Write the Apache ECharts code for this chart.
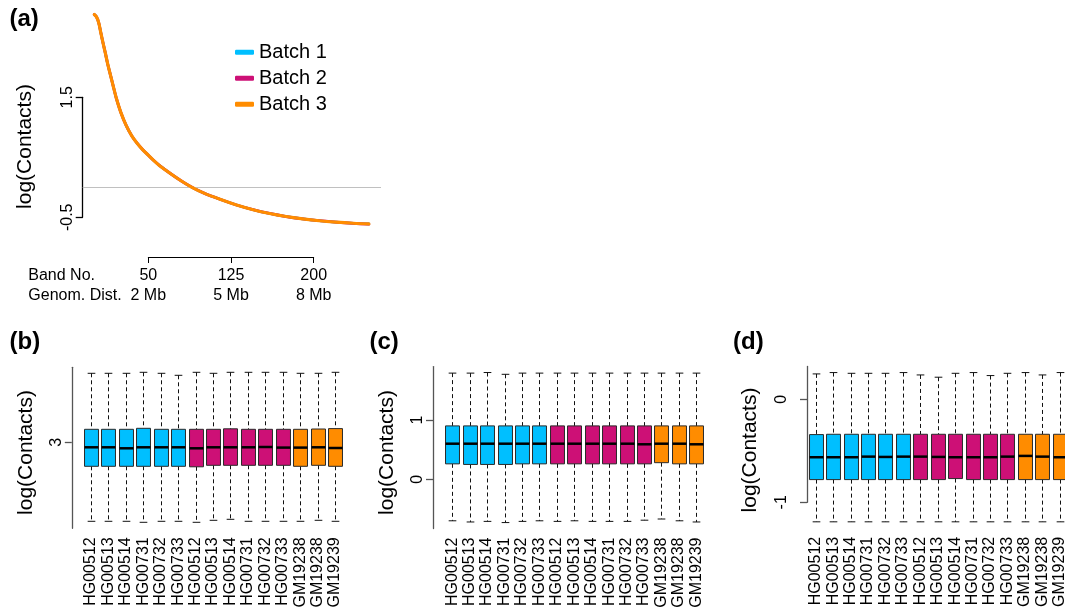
<!DOCTYPE html>
<html><head><meta charset="utf-8">
<script src="https://cdn.jsdelivr.net/npm/echarts@6/dist/echarts.min.js"></script>
<style>html,body{margin:0;padding:0;background:#fff}#c{width:1065px;height:613px}</style>
</head><body><div id="c"></div><script>
const FONT = "'Liberation Sans', Arial, Helvetica, sans-serif";

// ---------- data ----------
const batchNames = ['Batch 1', 'Batch 2', 'Batch 3'];
const samples = ['HG00512','HG00513','HG00514','HG00731','HG00732','HG00733',
                 'HG00512','HG00513','HG00514','HG00731','HG00732','HG00733',
                 'GM19238','GM19238','GM19239'];
const sampleBatch = [1,1,1,1,1,1,2,2,2,2,2,2,3,3,3];

// panel (a): decay curve, band number vs log(contacts)
const curveBands  = [1, 3, 5, 7, 9, 11, 13, 15, 18, 21, 25, 30, 35, 40, 45, 50, 55, 60, 70, 80, 90, 100, 115, 130, 145, 160, 175, 190, 205, 220, 236, 250];
const curveBatch1 = [2.88, 2.84, 2.745, 2.57, 2.40, 2.24, 2.068, 1.92, 1.70, 1.484, 1.252, 1.027, 0.857, 0.73, 0.625, 0.535, 0.445, 0.365, 0.23, 0.105, -0.005, -0.093, -0.20, -0.295, -0.373, -0.436, -0.487, -0.526, -0.557, -0.58, -0.599, -0.61];
const curveBatch2 = [2.88, 2.84, 2.745, 2.57, 2.40, 2.24, 2.068, 1.92, 1.70, 1.484, 1.252, 1.027, 0.857, 0.73, 0.625, 0.535, 0.445, 0.365, 0.23, 0.105, -0.005, -0.093, -0.20, -0.295, -0.373, -0.436, -0.487, -0.526, -0.557, -0.58, -0.601, -0.615];
const curveBatch3 = [2.88, 2.84, 2.745, 2.57, 2.40, 2.24, 2.068, 1.92, 1.70, 1.484, 1.252, 1.027, 0.857, 0.73, 0.625, 0.535, 0.445, 0.365, 0.23, 0.105, -0.005, -0.093, -0.20, -0.295, -0.373, -0.436, -0.487, -0.526, -0.557, -0.58, -0.599, -0.61];
const curveYTicks = [-0.5, 1.5];
const bandTicks   = [50, 125, 200];
const distLabels  = ['2 Mb', '5 Mb', '8 Mb'];

// boxplots: [lower whisker, Q1, median, Q3, upper whisker]
const boxB = [
  [2.21,2.76,2.95,3.13,3.69],[2.21,2.76,2.95,3.13,3.69],[2.21,2.76,2.94,3.13,3.69],
  [2.20,2.76,2.95,3.14,3.70],[2.21,2.76,2.95,3.13,3.69],[2.21,2.76,2.95,3.13,3.67],
  [2.20,2.755,2.94,3.13,3.70],[2.22,2.77,2.95,3.13,3.69],[2.23,2.77,2.95,3.135,3.70],
  [2.21,2.77,2.95,3.13,3.70],[2.21,2.77,2.953,3.13,3.70],[2.21,2.77,2.947,3.13,3.70],
  [2.21,2.76,2.947,3.13,3.69],[2.22,2.77,2.95,3.133,3.69],[2.21,2.76,2.943,3.137,3.70]];
const ticksB = [3];
const boxC = [
  [-0.70,0.26,0.60,0.90,1.79],[-0.72,0.25,0.60,0.90,1.79],[-0.71,0.25,0.60,0.90,1.80],
  [-0.73,0.25,0.60,0.90,1.77],[-0.71,0.26,0.60,0.90,1.79],[-0.70,0.26,0.60,0.90,1.79],
  [-0.71,0.26,0.60,0.90,1.79],[-0.70,0.26,0.60,0.90,1.79],[-0.71,0.26,0.60,0.90,1.79],
  [-0.71,0.26,0.60,0.90,1.79],[-0.71,0.26,0.60,0.90,1.79],[-0.69,0.26,0.59,0.90,1.79],
  [-0.67,0.28,0.60,0.90,1.79],[-0.70,0.26,0.60,0.90,1.79],[-0.72,0.26,0.59,0.90,1.79]];
const ticksC = [0, 1];
const boxD = [
  [-1.19,-0.78,-0.563,-0.343,0.246],[-1.19,-0.78,-0.563,-0.34,0.259],[-1.19,-0.78,-0.563,-0.34,0.252],
  [-1.19,-0.78,-0.557,-0.34,0.252],[-1.19,-0.78,-0.56,-0.34,0.252],[-1.19,-0.78,-0.557,-0.34,0.259],
  [-1.19,-0.78,-0.557,-0.34,0.236],[-1.19,-0.78,-0.56,-0.34,0.214],[-1.19,-0.77,-0.563,-0.34,0.252],
  [-1.19,-0.78,-0.563,-0.34,0.259],[-1.19,-0.78,-0.563,-0.34,0.23],[-1.19,-0.78,-0.557,-0.34,0.252],
  [-1.19,-0.78,-0.55,-0.34,0.259],[-1.19,-0.78,-0.557,-0.34,0.236],[-1.19,-0.78,-0.563,-0.34,0.259]];
const ticksD = [-1, 0];

// ---------- styles ----------
const batchColors = ['#00BFFF', '#CD1076', '#FF8C00'];
const curveWidths = [2.6, 2.8, 3.2];

function curvePairs(vals) { return curveBands.map((b, i) => [b, vals[i]]); }
function boxRows(box) { return box.map((r, i) => [i].concat(r, [sampleBatch[i]])); }

function renderBox(params, api) {
  const i = api.value(0);
  const lo = api.coord([i, api.value(1)]);
  const q1 = api.coord([i, api.value(2)]);
  const md = api.coord([i, api.value(3)]);
  const q3 = api.coord([i, api.value(4)]);
  const hi = api.coord([i, api.value(5)]);
  const bw = api.size([1, 0])[0];
  const half = bw * 0.4, st = bw * 0.22;
  const x = Math.round(lo[0]) + 0.5;
  const color = batchColors[api.value(6) - 1];
  const dash = { stroke: '#111', lineWidth: 1, lineDash: [4, 3] };
  const solid = { stroke: '#111', lineWidth: 1 };
  return { type: 'group', children: [
    { type: 'line', shape: { x1: x, y1: hi[1], x2: x, y2: q3[1] }, style: dash },
    { type: 'line', shape: { x1: x, y1: q1[1], x2: x, y2: lo[1] }, style: dash },
    { type: 'line', shape: { x1: x - st, y1: hi[1], x2: x + st, y2: hi[1] }, style: solid },
    { type: 'line', shape: { x1: x - st, y1: lo[1], x2: x + st, y2: lo[1] }, style: solid },
    { type: 'rect', shape: { x: x - half, y: q3[1], width: half * 2, height: q1[1] - q3[1] },
      style: { fill: color, stroke: '#2a2a2a', lineWidth: 1 } },
    { type: 'line', shape: { x1: x - half, y1: md[1], x2: x + half, y2: md[1] },
      style: { stroke: '#000', lineWidth: 2.5 } }
  ]};
}

const hidden = { show: false };
function hiddenAxis(grid, extra) {
  return Object.assign({ type: 'value', gridIndex: grid, show: false, splitLine: hidden }, extra || {});
}
function catAxis(grid) {
  return { type: 'category', gridIndex: grid, data: samples, boundaryGap: true,
    axisLine: hidden, axisTick: hidden, splitLine: hidden,
    axisLabel: { interval: 0, rotate: 90, margin: 9, fontSize: 16, color: '#000', fontFamily: FONT } };
}
function leftAxis(grid, min, max, ticks, offset, lineColor) {
  return { type: 'value', gridIndex: grid, min: min, max: max, offset: offset,
    splitLine: hidden,
    axisLine: { show: true, lineStyle: { color: lineColor, width: 1.3 } },
    axisTick: { show: true, length: 7, customValues: ticks, lineStyle: { color: lineColor, width: 1.3 } },
    axisLabel: { customValues: ticks, rotate: 90, margin: 7, fontSize: 16, color: '#000', fontFamily: FONT } };
}

const grids = [
  { left: 82.7, top: 5.6, width: 298.3, height: 226.4 },   // 0 (a) curve
  { left: 82.7, top: 97.3, width: 298.3, height: 120 },    // 1 (a) y axis
  { left: 148.3, top: 240, width: 165.4, height: 17 },     // 2 (a) x axis
  { left: 82.3, top: 367.3, width: 261.5, height: 161 },   // 3 (b)
  { left: 443.5, top: 366.6, width: 261.5, height: 161.9 },// 4 (c)
  { left: 807, top: 366.5, width: 261.5, height: 161.3 },  // 5 (d)
  { left: 807, top: 366.5, width: 261.5, height: 135.8 }   // 6 (d) y axis
].map(g => Object.assign({ containLabel: false, outerBoundsMode: 'none' }, g));

const xAxes = [
  hiddenAxis(0, { min: -9.5, max: 261 }),
  hiddenAxis(1, { min: 0, max: 1 }),
  { type: 'value', gridIndex: 2, min: 50, max: 200, splitLine: hidden,
    axisLine: { show: true, lineStyle: { color: '#000', width: 1 } },
    axisTick: { show: true, length: 6, customValues: bandTicks, lineStyle: { color: '#000' } },
    axisLabel: { customValues: bandTicks, margin: 8.5, fontSize: 16, lineHeight: 20, color: '#000', fontFamily: FONT,
      formatter: v => v + '\n' + distLabels[bandTicks.indexOf(v)] } },
  catAxis(3), catAxis(4), catAxis(5),
  hiddenAxis(6, { min: 0, max: 1 })
];
const yAxes = [
  hiddenAxis(0, { min: -0.745, max: 3.028 }),
  leftAxis(1, -0.5, 1.5, curveYTicks, 0, '#000'),
  hiddenAxis(2, { min: 0, max: 1 }),
  leftAxis(3, 2.14, 3.75, ticksB, 10.5, '#555'),
  leftAxis(4, -0.83, 1.90, ticksC, 10.5, '#555'),
  hiddenAxis(5, { min: -1.248, max: 0.318 }),
  leftAxis(6, -1, 0.318, ticksD, 10.5, '#555')
];

const curveSeries = [curveBatch1, curveBatch2, curveBatch3].map((vals, k) => ({
  type: 'line', name: batchNames[k], xAxisIndex: 0, yAxisIndex: 0,
  data: curvePairs(vals), smooth: 0.3, showSymbol: false, symbol: 'none',
  lineStyle: { color: batchColors[k], width: curveWidths[k], cap: 'round', join: 'round' }, itemStyle: { color: batchColors[k] },
  z: 3 + k, animation: false,
  markLine: k === 0 ? { silent: true, symbol: ['none', 'none'], label: { show: false },
    lineStyle: { color: '#c0c0c0', width: 1, type: 'solid' }, data: [{ yAxis: 0 }], animation: false } : undefined
}));

const boxSeries = [[boxB, 3], [boxC, 4], [boxD, 5]].map(([box, g]) => ({
  type: 'custom', xAxisIndex: g, yAxisIndex: g, renderItem: renderBox,
  data: boxRows(box), encode: { x: 0, y: [1, 2, 3, 4, 5] }, animation: false, silent: true
}));

function txt(text, x, y, size, opts) {
  const o = opts || {};
  return { type: 'text', x: x, y: y, rotation: o.rot || 0, silent: true, z: 10,
    style: { text: text, fill: '#000', font: (o.bold ? 'bold ' : '') + size + 'px ' + FONT,
      fontSize: size, fontWeight: o.bold ? 'bold' : 'normal', fontFamily: FONT,
      align: o.align || 'center', textAlign: o.align || 'center',
      verticalAlign: 'middle', textVerticalAlign: 'middle' } };
}
const graphics = [
  txt('(a)', 9.5, 19.2, 24, { bold: true, align: 'left' }),
  txt('(b)', 9.5, 342.5, 24, { bold: true, align: 'left' }),
  txt('(c)', 369.5, 342.5, 24, { bold: true, align: 'left' }),
  txt('(d)', 733, 342.3, 24, { bold: true, align: 'left' }),
  txt('log(Contacts)', 25, 146.5, 21, { rot: Math.PI / 2 }),
  txt('log(Contacts)', 26, 452.5, 21, { rot: Math.PI / 2 }),
  txt('log(Contacts)', 387.5, 452.5, 21, { rot: Math.PI / 2 }),
  txt('log(Contacts)', 750, 450, 21, { rot: Math.PI / 2 }),
  txt('Band No.', 28.3, 275.5, 16, { align: 'left' }),
  txt('Genom. Dist.', 28.3, 295.5, 16, { align: 'left' })
];

const chart = echarts.init(document.getElementById('c'), null, { renderer: 'canvas' });
chart.setOption({
  animation: false,
  backgroundColor: '#fff',
  textStyle: { fontFamily: FONT },
  grid: grids, xAxis: xAxes, yAxis: yAxes,
  legend: { data: batchNames, orient: 'vertical', left: 235, top: 42.3, padding: 0,
    itemWidth: 19, itemHeight: 5, itemGap: 6, icon: 'roundRect', selectedMode: false,
    textStyle: { fontSize: 20, lineHeight: 20, color: '#000', fontFamily: FONT } },
  series: curveSeries.concat(boxSeries),
  graphic: graphics
});
</script></body></html>
